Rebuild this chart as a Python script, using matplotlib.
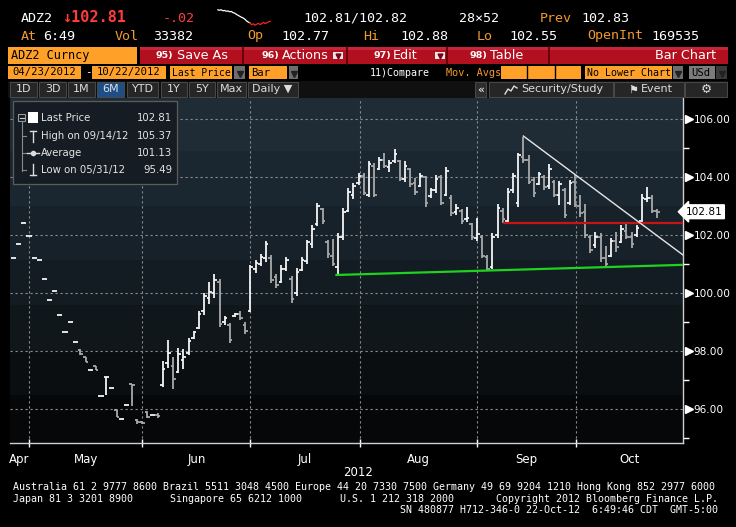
import numpy as np
import matplotlib
matplotlib.use('Agg')
import matplotlib.pyplot as plt
from matplotlib.patches import Rectangle

W, H = 736, 527

# ---- daily bars of ADZ2, one per trading day (index 0 = late April 2012) ----
highs = [101.22, 101.70, 102.42, 101.98, 101.22, 101.15, 100.49, 99.77, 100.08, 99.25,
         98.67, 99.01, 98.32, 98.08, 97.80, 97.35, 97.49, 96.45, 97.11, 96.74,
         95.97, 95.66, 96.14, 96.87, 95.66, 95.60, 95.94, 95.80, 95.87, 97.66,
         98.39, 97.80, 98.11, 98.08, 98.46, 98.70, 99.39, 100.01, 100.39, 100.67,
         100.49, 99.22, 98.98, 99.32, 99.39, 99.01, 100.98, 101.15, 101.36, 101.80,
         101.32, 100.67, 100.98, 101.25, 100.60, 100.87, 101.25, 101.84, 102.35, 103.11,
         102.94, 101.84, 101.87, 102.08, 102.94, 103.63, 103.80, 104.15, 104.15, 104.56,
         104.49, 104.70, 104.84, 104.60, 104.98, 104.60, 104.56, 104.32, 103.97, 104.15,
         104.04, 103.63, 104.08, 104.08, 104.35, 103.39, 103.08, 102.91, 102.98, 102.42,
         102.60, 102.01, 101.32, 102.08, 103.08, 102.94, 103.63, 104.15, 104.84, 105.37,
         104.77, 104.01, 104.18, 104.08, 104.46, 103.91, 103.87, 103.63, 103.91, 104.08,
         103.39, 103.08, 102.01, 102.11, 102.08, 101.63, 101.91, 102.11, 102.35, 102.42,
         102.11, 102.35, 103.42, 103.67, 103.39, 102.91]
lows = [101.22, 101.70, 102.42, 101.98, 101.22, 101.15, 100.49, 99.77, 100.08, 99.25,
        98.67, 99.01, 98.32, 97.87, 97.63, 97.35, 97.35, 96.45, 96.49, 96.74,
        95.73, 95.66, 96.14, 96.11, 95.49, 95.50, 95.70, 95.80, 95.70, 96.77,
        97.42, 96.70, 97.25, 97.39, 97.87, 98.42, 98.77, 99.25, 99.63, 99.84,
        98.84, 98.91, 98.29, 99.18, 99.08, 98.60, 99.36, 100.70, 100.94, 101.08,
        100.36, 100.18, 100.36, 100.77, 99.67, 99.91, 100.77, 101.01, 101.56, 102.32,
        102.39, 101.22, 100.94, 100.63, 101.84, 102.80, 103.25, 103.73, 103.39, 103.32,
        103.32, 104.25, 104.32, 104.18, 104.49, 103.87, 103.84, 103.67, 103.39, 103.67,
        102.98, 103.29, 103.46, 103.04, 103.36, 102.67, 102.70, 102.39, 102.46, 101.84,
        101.80, 101.22, 100.77, 100.85, 101.91, 102.42, 102.42, 103.46, 102.98, 104.49,
        103.77, 103.32, 103.73, 103.56, 103.60, 103.32, 103.04, 102.60, 103.04, 102.98,
        102.63, 101.91, 101.39, 101.56, 101.08, 100.91, 101.25, 101.42, 101.73, 101.87,
        101.56, 101.94, 102.46, 103.15, 102.77, 102.60]
opens = [101.22, 101.70, 102.42, 101.98, 101.22, 101.15, 100.49, 99.77, 100.08, 99.25,
         98.67, 99.01, 98.32, 98.05, 97.80, 97.35, 97.49, 96.45, 97.11, 96.74,
         95.97, 95.66, 96.14, 96.87, 95.62, 95.55, 95.90, 95.80, 95.80, 96.85,
         97.60, 97.50, 97.30, 97.70, 97.95, 98.45, 98.80, 99.40, 99.85, 100.00,
         100.40, 99.00, 98.90, 99.20, 99.30, 98.90, 99.40, 100.85, 101.00, 101.20,
         101.20, 100.55, 100.40, 100.85, 100.50, 100.00, 100.80, 101.10, 101.70, 102.40,
         102.90, 101.75, 101.30, 100.90, 101.95, 102.85, 103.40, 103.80, 104.05, 103.40,
         104.40, 104.30, 104.60, 104.35, 104.55, 104.55, 103.95, 104.30, 103.80, 103.70,
         104.00, 103.35, 103.55, 104.00, 103.40, 103.30, 102.80, 102.85, 102.55, 102.40,
         101.90, 101.95, 101.25, 100.90, 102.00, 102.85, 102.50, 103.55, 103.10, 104.70,
         104.60, 103.90, 103.75, 104.00, 103.70, 103.85, 103.40, 103.55, 103.10, 103.85,
         103.00, 102.80, 101.95, 101.65, 101.95, 101.20, 101.30, 101.80, 101.75, 102.15,
         101.95, 102.00, 102.50, 103.25, 103.30, 102.85]
closes = [101.22, 101.70, 102.42, 101.98, 101.22, 101.15, 100.49, 99.77, 100.08, 99.25,
          98.67, 99.01, 98.32, 97.90, 97.63, 97.35, 97.35, 96.45, 97.11, 96.74,
          95.73, 95.66, 96.14, 96.85, 95.55, 95.52, 95.75, 95.80, 95.78, 97.40,
          97.95, 97.05, 97.90, 97.80, 98.35, 98.65, 99.30, 99.90, 100.05, 100.45,
          98.95, 99.15, 98.40, 99.30, 99.15, 98.70, 100.90, 101.05, 101.25, 101.70,
          100.45, 100.30, 100.85, 101.15, 99.80, 100.75, 101.15, 101.75, 102.20, 103.00,
          102.50, 101.35, 101.00, 101.95, 102.80, 103.50, 103.70, 104.05, 103.45, 104.45,
          103.40, 104.60, 104.40, 104.50, 104.80, 103.95, 104.40, 103.75, 103.50, 104.05,
          103.10, 103.55, 103.95, 103.10, 104.20, 102.75, 102.95, 102.50, 102.60, 101.95,
          102.05, 101.30, 100.85, 101.95, 102.95, 102.55, 103.50, 104.05, 104.75, 104.60,
          103.85, 103.45, 104.10, 103.65, 104.30, 103.40, 103.75, 102.70, 103.80, 103.05,
          102.75, 102.00, 101.50, 101.95, 101.20, 101.00, 101.80, 101.60, 102.20, 101.95,
          101.70, 102.25, 103.30, 103.30, 102.85, 102.81]

month_names = ['Apr', 'May', 'Jun', 'Jul', 'Aug', 'Sep', 'Oct']
month_edges = [3.0, 25.0, 46.0, 67.2, 90.0, 109.3]   # bar index where a new month starts
y_ticks = [96, 98, 100, 102, 104, 106]
y_minor = [95, 97, 99, 101, 103, 105]

# hand drawn trend lines (bar index, price)
green_x, green_y = [62.5, 130], [100.63, 100.98]
red_x, red_y = [95, 130], [102.43, 102.43]
white_x, white_y = [99, 130], [105.42, 101.32]

# intraday sparkline in the header
spark_white = [10.0, 9.8, 10.0, 9.6, 9.7, 9.4, 9.5, 9.2, 9.3, 8.8, 8.6, 8.1, 7.7, 7.3,
               6.9, 6.6, 6.1, 5.4, 4.9, 4.6]
spark_red = [4.6, 3.8, 4.2, 3.6, 4.0, 4.4, 3.9, 4.2, 4.8, 4.3, 4.6, 5.0, 5.2]

last_price = 102.81

ORANGE = '#ffa128'
TXT_OR = '#f29a2e'
RED = '#ff3b3b'
BTN = '#b3101f'
MONO = 'DejaVu Sans Mono'

fig = plt.figure(figsize=(W / 100, H / 100), dpi=100, facecolor='black')

# ---- price chart ----
ax = fig.add_axes([10 / W, 1 - 443 / H, 673 / W, 345 / H])
x_lo, x_hi = -0.68, 130.0
y_lo, y_hi = 94.84, 106.73
ax.set_xlim(x_lo, x_hi)
ax.set_ylim(y_lo, y_hi)
ax.set_facecolor('#07080b')

bands = [(104.9, y_hi, '#1f2c36'), (103.0, 104.9, '#1a2630'), (101.15, 103.0, '#16212a'),
         (99.6, 101.15, '#131c22'), (98.0, 99.6, '#0f171a'), (96.5, 98.0, '#0b0e11'),
         (y_lo, 96.5, '#060709')]
for b0, b1, c in bands:
    ax.axhspan(b0, b1, color=c, zorder=0, lw=0)

for yv in y_ticks:
    ax.axhline(yv, color='#8c8c8c', lw=0.8, ls=(0, (2, 2.5)), zorder=1)
for xv in month_edges:
    ax.axvline(xv, color='#8c8c8c', lw=0.8, ls=(0, (2, 2.5)), zorder=1)

xi = np.arange(len(highs))
up = np.array(closes) >= np.array(opens)
cols = np.where(up, '#f4f4f4', '#a9a9a9')
ax.vlines(xi, lows, highs, colors=cols, lw=1.3, zorder=3)
ax.hlines(opens, xi - 0.5, xi, colors=cols, lw=1.3, zorder=3)
ax.hlines(closes, xi, xi + 0.5, colors=cols, lw=1.3, zorder=3)

ax.plot(green_x, green_y, color='#1fd21f', lw=1.6, zorder=4, solid_capstyle='butt')
ax.plot(red_x, red_y, color='#c81414', lw=1.6, zorder=4, solid_capstyle='butt')
ax.plot(white_x, white_y, color='#e6e6e6', lw=1.0, zorder=4)

for s in ['top', 'left']:
    ax.spines[s].set_visible(False)
for s in ['right', 'bottom']:
    ax.spines[s].set_color('#d0d0d0')
    ax.spines[s].set_linewidth(1.0)

ax.yaxis.tick_right()
ax.set_yticks(y_ticks)
ax.set_yticklabels(['%.2f' % v for v in y_ticks])
ax.set_yticks(y_minor, minor=True)
ax.tick_params(axis='y', which='major', length=0, pad=7.5, labelsize=7.6, labelcolor='white')
ax.tick_params(axis='y', which='minor', length=4, width=1, color='white')
ax.plot([1.009] * len(y_ticks), y_ticks, ls='none', marker='>', ms=6, color='white',
        transform=ax.get_yaxis_transform(), clip_on=False, zorder=6)

edges = np.array([x_lo] + month_edges + [x_hi])
ax.set_xticks(month_edges)
ax.set_xticklabels([])
ax.set_xticks((edges[:-1] + edges[1:]) / 2, minor=True)
ax.set_xticklabels(month_names, minor=True)
ax.tick_params(axis='x', which='major', length=6, width=1, direction='inout', color='white')
ax.tick_params(axis='x', which='minor', length=0, pad=7, labelsize=8.5, labelcolor='white')

ax.text(1.004, last_price, '102.81', transform=ax.get_yaxis_transform(), color='black',
        fontsize=7.6, va='center', ha='left', zorder=7, clip_on=False,
        bbox=dict(boxstyle='larrow,pad=0.18', fc='white', ec='white'))

# ---- terminal chrome, drawn in pixel coordinates ----
ui = fig.add_axes([0, 0, 1, 1], zorder=5)
ui.set_xlim(0, W)
ui.set_ylim(H, 0)
ui.axis('off')


def box(x0, y0, x1, y1, fc, ec='none', lw=0.8):
    ui.add_patch(Rectangle((x0, y0), x1 - x0, y1 - y0, facecolor=fc, edgecolor=ec, linewidth=lw))


def txt(x, y, s, c='white', size=9.6, ha='left', family=MONO, weight='normal'):
    ui.text(x, y, s, color=c, fontsize=size, ha=ha, va='center', family=family, fontweight=weight)


def dropdown(x0, y0, x1, y1, fc='#6e6e6e'):
    box(x0, y0, x1, y1, fc)
    ui.plot([(x0 + x1) / 2], [(y0 + y1) / 2 + 1], marker='v', ms=4, color='#222222')


# header rows
txt(21, 18, 'ADZ2')
txt(62, 18, '↓102.81', c=RED, size=11, weight='bold')
txt(163, 18, '-.02', c=RED)
txt(303, 18, '102.81/102.82')
txt(459, 18, '28×52')
txt(540, 18, 'Prev', c=TXT_OR)
txt(581, 18, '102.83')
for xx, s, c in [(21, 'At', TXT_OR), (43, '6:49', 'white'), (115, 'Vol', TXT_OR),
                 (153, '33382', 'white'), (247, 'Op', TXT_OR), (281, '102.77', 'white'),
                 (363, 'Hi', TXT_OR), (400, '102.88', 'white'), (477, 'Lo', TXT_OR),
                 (509, '102.55', 'white'), (587, 'OpenInt', TXT_OR), (651, '169535', 'white')]:
    txt(xx, 36, s, c=c)

sp = fig.add_axes([217 / W, 1 - 26 / H, 54 / W, 17 / H], zorder=6)
sp.plot(np.arange(len(spark_white)), spark_white, color='white', lw=0.9)
sp.plot(np.arange(len(spark_red)) + len(spark_white) - 1, spark_red, color='#ff2020', lw=0.9)
sp.set_xlim(-0.5, len(spark_white) + len(spark_red) - 1.5)
sp.axis('off')

# button row
box(8, 47, 137, 64, ORANGE)
txt(11, 55.5, 'ADZ2 Curncy', c='black', size=8.6)
box(140, 47, 728, 64, BTN)
box(140, 47, 728, 50, '#c8243a')
for sx in [242.5, 346.5, 446.5, 548.5]:
    ui.plot([sx, sx], [47, 64], color='#5c0008', lw=1.2)
for xn, num, xl, lab in [(156, '95)', 177, 'Save As'), (262, '96)', 282, 'Actions'),
                         (373, '97)', 393, 'Edit'), (469, '98)', 490, 'Table')]:
    txt(xn, 55.5, num, size=6.8, family='DejaVu Sans', weight='bold')
    txt(xl, 55.5, lab, size=9.2, family='DejaVu Sans')
for bx in [333, 435]:
    box(bx, 52, bx + 10, 59, '#e8e8e8')
    ui.plot([bx + 5], [56], marker='v', ms=3.5, color='#7a0010')
txt(716, 55.5, 'Bar Chart', ha='right', size=9.2, family='DejaVu Sans')

# date / settings row
box(8, 66, 81, 79, ORANGE)
txt(44.5, 72.5, '04/23/2012', c='black', size=7.6, ha='center')
txt(85, 72.5, '-', size=7.8)
box(92, 66, 166, 79, ORANGE)
txt(129, 72.5, '10/22/2012', c='black', size=7.6, ha='center')
box(170, 66, 232, 79, ORANGE)
txt(172, 72.5, 'Last Price', c='black', size=7.0)
dropdown(234, 66, 245, 79)
box(249, 66, 287, 79, ORANGE)
txt(251, 72.5, 'Bar', c='black', size=7.6)
dropdown(289, 66, 298, 79)
txt(370, 72.5, '11)Compare', size=7.2)
txt(446, 72.5, 'Mov. Avgs', c=TXT_OR, size=7.4)
box(501, 66, 581, 79, ORANGE)
for sx in [527, 555]:
    ui.plot([sx, sx], [66, 79], color='black', lw=1)
box(585, 66, 672, 79, ORANGE)
txt(587, 72.5, 'No Lower Chart', c='black', size=7.2)
dropdown(673, 66, 683, 79)
box(689, 66, 715, 79, '#7c7c7c')
txt(691, 72.5, 'USd', c='black', size=7.6)
dropdown(716, 66, 727, 79, fc='#3a3a3a')

# period tabs
box(8, 81, 728, 98, '#101010')
tabs = [(10, 37, '1D'), (39, 66, '3D'), (68, 95, '1M'), (97, 124, '6M'), (127, 158, 'YTD'),
        (161, 187, '1Y'), (189, 215, '5Y'), (217, 246, 'Max'), (248, 298, 'Daily ▼')]
for t0, t1, lab in tabs:
    fc = '#1d4f86' if lab == '6M' else '#262626'
    box(t0, 82, t1, 97, fc, ec='#4a4a4a', lw=0.7)
    if lab.startswith('Daily'):
        txt(t0 + 4, 89.5, lab, c='#dddddd', size=8, family='DejaVu Sans')
    else:
        txt((t0 + t1) / 2, 89.5, lab, c='#dddddd', size=8, ha='center', family='DejaVu Sans')
box(475, 82, 486, 97, '#2e2e2e', ec='#4a4a4a', lw=0.7)
txt(480.5, 89.5, '«', size=8, ha='center', family='DejaVu Sans')
box(489, 82, 613, 97, '#262626', ec='#4a4a4a', lw=0.7)
ui.plot([505, 508, 511, 514, 517], [94, 89, 91, 86, 88], color='#dddddd', lw=1)
txt(521, 89.5, 'Security/Study', c='#dddddd', size=8, family='DejaVu Sans')
box(614, 82, 684, 97, '#262626', ec='#4a4a4a', lw=0.7)
txt(628, 89.5, '⚑', c='#dddddd', size=8, family='DejaVu Sans')
txt(641, 89.5, 'Event', c='#dddddd', size=8, family='DejaVu Sans')
box(685, 82, 727, 97, '#262626', ec='#4a4a4a', lw=0.7)
txt(706, 89.5, '⚙', c='#dddddd', size=9, ha='center', family='DejaVu Sans')

# legend box
box(12.7, 101, 177, 184, '#151c23', ec='#5c5c5c', lw=0.9)
box(18, 114, 25, 121, 'none', ec='#9a9a9a', lw=0.8)
ui.plot([19.5, 23.5], [117.5, 117.5], color='#cccccc', lw=0.8)
ui.plot([21.5, 21.5], [121, 171], color='#8a8a8a', lw=0.8)
for yy in [136, 153, 170]:
    ui.plot([21.5, 26], [yy, yy], color='#8a8a8a', lw=0.8)
box(28, 112, 38, 123, 'white')
ui.plot([33, 33], [131, 142], color='#dddddd', lw=1)
ui.plot([30, 36], [131, 131], color='#dddddd', lw=1)
ui.plot([27, 39], [153, 153], color='#dddddd', lw=1)
ui.plot([33], [153], marker='o', ms=3, color='#dddddd')
ui.plot([33, 33], [164, 175], color='#dddddd', lw=1)
ui.plot([30, 36], [175, 175], color='#dddddd', lw=1)
for yy, lab, val in [(118, 'Last Price', '102.81'), (136, 'High on 09/14/12', '105.37'),
                     (153, 'Average', '101.13'), (170, 'Low on 05/31/12', '95.49')]:
    txt(41, yy, lab, c='#e4e4e4', size=7.3, family='DejaVu Sans')
    txt(172, yy, val, c='#e4e4e4', size=7.3, ha='right', family='DejaVu Sans')

# axis year and footer
txt(358, 472, '2012', size=8.5, ha='center', family='DejaVu Sans')
txt(13, 487, 'Australia 61 2 9777 8600 Brazil 5511 3048 4500 Europe 44 20 7330 7500 '
    'Germany 49 69 9204 1210 Hong Kong 852 2977 6000', size=7.2)
txt(13, 498.5, 'Japan 81 3 3201 8900', size=7.2)
txt(170, 498.5, 'Singapore 65 6212 1000', size=7.2)
txt(340, 498.5, 'U.S. 1 212 318 2000', size=7.2)
txt(718, 498.5, 'Copyright 2012 Bloomberg Finance L.P.', size=7.2, ha='right')
txt(718, 510, 'SN 480877 H712-346-0 22-Oct-12  6:49:46 CDT  GMT-5:00', size=7.2, ha='right')

fig.savefig('out.png', dpi=100, facecolor='black')
